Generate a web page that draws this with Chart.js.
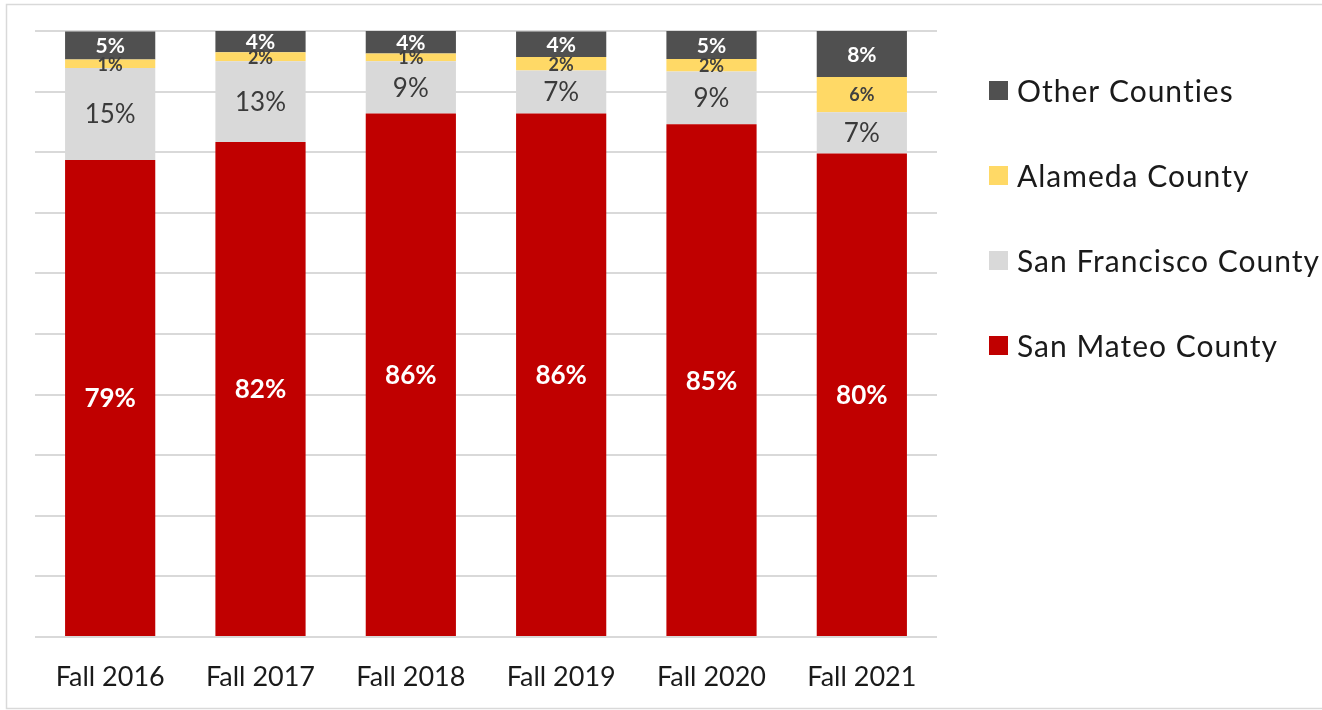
<!DOCTYPE html>
<html>
<head>
<meta charset="utf-8">
<script src="https://cdn.jsdelivr.net/npm/chart.js@4"></script>
<style>
  html, body { margin: 0; padding: 0; background: #fff; }
  #caixa { width: 1322px; height: 710px; position: relative; }
</style>
</head>
<body>
<div id="caixa"><canvas id="grafico" width="1322" height="710"></canvas></div>
<script>
const categorias   = ['Fall 2016', 'Fall 2017', 'Fall 2018', 'Fall 2019', 'Fall 2020', 'Fall 2021'];
const sanMateo     = [78.7, 81.7, 86.4, 86.4, 84.6, 79.8];
const sanFrancisco = [15.2, 13.3, 8.6, 7.1, 8.7, 6.8];
const alameda      = [1.4, 1.5, 1.3, 2.2, 2.1, 5.8];
const outros       = [4.6, 3.5, 3.7, 4.2, 4.6, 7.6];

const nomesSeries = ['San Mateo County', 'San Francisco County', 'Alameda County', 'Other Counties'];
const coresSeries = ['#c00000', '#d9d9d9', '#ffd966', '#505050'];

document.addEventListener('DOMContentLoaded', () => {

    Chart.defaults.font.family = 'Lato';

    // estilo do rótulo de cada série (fonte, cor)
    const estiloRotulo = [
        { font: 'bold 26px Lato', cor: '#ffffff' },
        { font: '26px Lato',      cor: '#3a3a3a' },
        { font: 'bold 18px Lato', cor: '#404040' },
        { font: 'bold 21px Lato', cor: '#ffffff' }
    ];

    const pluginMoldura = {
        id: 'moldura',
        beforeDraw(chart) {
            const ctx = chart.ctx;
            ctx.save();
            ctx.strokeStyle = '#d9d9d9';
            ctx.lineWidth = 1.5;
            ctx.strokeRect(6.5, 4.5, 1400, 704);
            ctx.restore();
        }
    };

    const pluginRotulos = {
        id: 'rotulos',
        afterDatasetsDraw(chart) {
            const ctx = chart.ctx;
            ctx.save();
            ctx.textAlign = 'center';
            ctx.textBaseline = 'middle';
            chart.data.datasets.forEach((ds, i) => {
                const meta = chart.getDatasetMeta(i);
                ctx.font = estiloRotulo[i].font;
                ctx.fillStyle = estiloRotulo[i].cor;
                meta.data.forEach((barra, j) => {
                    const y = (barra.y + barra.base) / 2;
                    ctx.fillText(Math.round(ds.data[j]) + '%', barra.x, y + 1);
                });
            });
            ctx.restore();
        }
    };

    const pluginLegenda = {
        id: 'legendaLateral',
        afterDraw(chart) {
            const ctx = chart.ctx;
            const lista = chart.data.datasets.slice().reverse();
            ctx.save();
            ctx.font = '30px Lato';
            ctx.letterSpacing = '1px';
            ctx.textBaseline = 'middle';
            ctx.textAlign = 'left';
            lista.forEach((ds, k) => {
                const y = 91 + k * 85;
                ctx.fillStyle = ds.backgroundColor;
                ctx.fillRect(989, y - 10, 19, 19);
                ctx.fillStyle = '#1a1a1a';
                ctx.fillText(ds.label, 1017, y + 1);
            });
            ctx.restore();
        }
    };

    const series = [sanMateo, sanFrancisco, alameda, outros];

    new Chart(document.getElementById('grafico').getContext('2d'), {
        type: 'bar',
        data: {
            labels: categorias,
            datasets: series.map((valores, i) => ({
                label: nomesSeries[i],
                data: valores,
                backgroundColor: coresSeries[i],
                borderWidth: 0,
                categoryPercentage: 0.6,
                barPercentage: 1
            }))
        },
        options: {
            responsive: false,
            animation: false,
            layout: { padding: { left: 35, right: 385, top: 31, bottom: 0 } },
            plugins: {
                legend: { display: false },
                tooltip: { enabled: false }
            },
            scales: {
                x: {
                    stacked: true,
                    grid: { display: false, drawTicks: false },
                    border: { display: false },
                    ticks: { color: '#1a1a1a', font: { size: 27 }, padding: 24 },
                    afterFit: (eixo) => { eixo.height = 73; }
                },
                y: {
                    stacked: true,
                    min: 0, max: 100,
                    ticks: { display: false, stepSize: 10 },
                    grid: { color: '#d9d9d9', lineWidth: 2, drawTicks: false },
                    border: { display: false }
                }
            }
        },
        plugins: [pluginMoldura, pluginRotulos, pluginLegenda]
    });
});
</script>
</body>
</html>
